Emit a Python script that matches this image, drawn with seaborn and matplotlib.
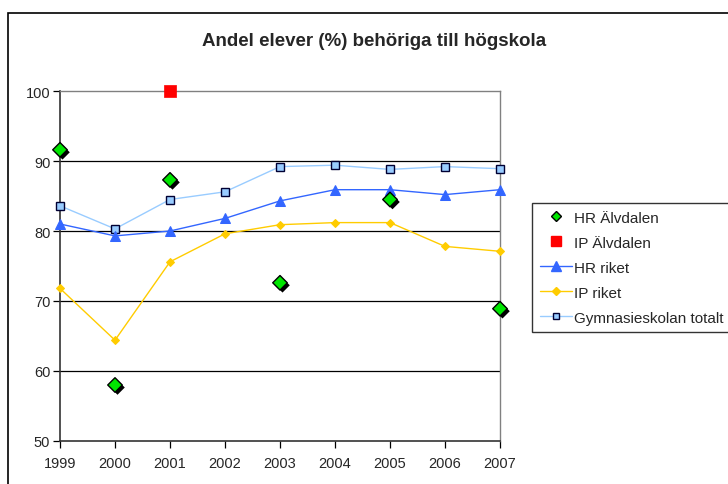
import numpy as np
import pandas as pd
import matplotlib
matplotlib.use("Agg")
import matplotlib.pyplot as plt
import matplotlib.patheffects as pe
from matplotlib.lines import Line2D
from matplotlib.patches import Rectangle
import seaborn as sns

years = [1999, 2000, 2001, 2002, 2003, 2004, 2005, 2006, 2007]

# Älvdalen (only some years reported)
hr_alvdalen_years = [1999, 2000, 2001, 2003, 2005, 2007]
hr_alvdalen = [91.6, 58.0, 87.3, 72.6, 84.5, 68.9]
ip_alvdalen_years = [2001]
ip_alvdalen = [100.0]

hr_riket = [81.0, 79.3, 80.0, 81.8, 84.3, 85.9, 85.9, 85.2, 85.9]
ip_riket = [71.8, 64.4, 75.6, 79.6, 80.9, 81.2, 81.2, 77.8, 77.1]
gymnasie_totalt = [83.6, 80.3, 84.5, 85.6, 89.2, 89.4, 88.8, 89.2, 88.9]

labels = ["HR Älvdalen", "IP Älvdalen", "HR riket", "IP riket", "Gymnasieskolan totalt"]

sns.set_style("white")
plt.rcParams["font.family"] = ["Liberation Sans", "DejaVu Sans"]

fig = plt.figure(figsize=(7.28, 4.85), dpi=100)
ax = fig.add_axes([60 / 728, 43 / 485, 440 / 728, 350 / 485])

# outer chart frame
fig.patches.append(Rectangle((8 / 728, -0.1), 1.0, (485 - 14) / 485 + 0.1,
                             transform=fig.transFigure, fill=False,
                             edgecolor="black", linewidth=1.2))

for y in [60, 70, 80, 90]:
    ax.axhline(y, color="black", linewidth=0.9, zorder=1)

sns.lineplot(x=years, y=gymnasie_totalt, ax=ax, color="#99ccff", linewidth=1,
             marker="s", markersize=5.5, markerfacecolor="#99ccff",
             markeredgecolor="#000033", markeredgewidth=1, zorder=3, clip_on=False)
sns.lineplot(x=years, y=hr_riket, ax=ax, color="#3366ff", linewidth=1,
             marker="^", markersize=7, markerfacecolor="#3366ff",
             markeredgecolor="#3366ff", zorder=4, clip_on=False)
sns.lineplot(x=years, y=ip_riket, ax=ax, color="#ffcc00", linewidth=1,
             marker="D", markersize=4.5, markerfacecolor="#ffcc00",
             markeredgecolor="#ffcc00", zorder=4, clip_on=False)

sns.scatterplot(x=hr_alvdalen_years, y=hr_alvdalen, ax=ax, marker="D", s=55,
                color="#00e600", edgecolor="black", linewidth=1, zorder=6, clip_on=False)
ax.collections[-1].set_path_effects([
    pe.SimplePatchShadow(offset=(1.8, -1.8), shadow_rgbFace="black", alpha=1),
    pe.Normal()])
sns.scatterplot(x=ip_alvdalen_years, y=ip_alvdalen, ax=ax, marker="s", s=75,
                color="#ff0000", edgecolor="#ff0000", linewidth=0.5, zorder=6, clip_on=False)

ax.set_xlim(1999, 2007)
ax.set_ylim(50, 100)
ax.set_xticks(years)
ax.set_xticklabels([str(y) for y in years], fontsize=10.5)
ax.set_yticks([50, 60, 70, 80, 90, 100])
ax.set_yticklabels(["50", "60", "70", "80", "90", "100"], fontsize=10.5)
ax.tick_params(axis="both", direction="out", length=5, width=0.9,
               color="black", pad=2, left=True, bottom=True)
ax.tick_params(axis="x", pad=6)

for side in ["top", "right"]:
    ax.spines[side].set_color("#808080")
    ax.spines[side].set_linewidth(1)
for side in ["left", "bottom"]:
    ax.spines[side].set_color("#333333")
    ax.spines[side].set_linewidth(1.2)

fig.text(374 / 728, 1 - 42 / 485, "Andel elever (%) behöriga till högskola",
         ha="center", va="center", fontsize=13.5, fontweight="bold")

handles = [
    Line2D([], [], linestyle="none", marker="D", markersize=5,
           markerfacecolor="#00e600", markeredgecolor="black"),
    Line2D([], [], linestyle="none", marker="s", markersize=7,
           markerfacecolor="#ff0000", markeredgecolor="#ff0000"),
    Line2D([], [], color="#3366ff", linewidth=1, marker="^", markersize=7,
           markerfacecolor="#3366ff", markeredgecolor="#3366ff"),
    Line2D([], [], color="#ffcc00", linewidth=1, marker="D", markersize=4.5,
           markerfacecolor="#ffcc00", markeredgecolor="#ffcc00"),
    Line2D([], [], color="#99ccff", linewidth=1, marker="s", markersize=5,
           markerfacecolor="#99ccff", markeredgecolor="#000033"),
]
leg = fig.legend(handles, labels, loc="upper left",
                 bbox_to_anchor=(532 / 728, 1 - 204 / 485),
                 fontsize=11, frameon=True, fancybox=False, handlelength=2.1,
                 handletextpad=0.15, labelspacing=0.72, borderpad=0.5,
                 borderaxespad=0)
leg.get_frame().set_edgecolor("black")
leg.get_frame().set_linewidth(1)

fig.savefig("out.png", dpi=100)
